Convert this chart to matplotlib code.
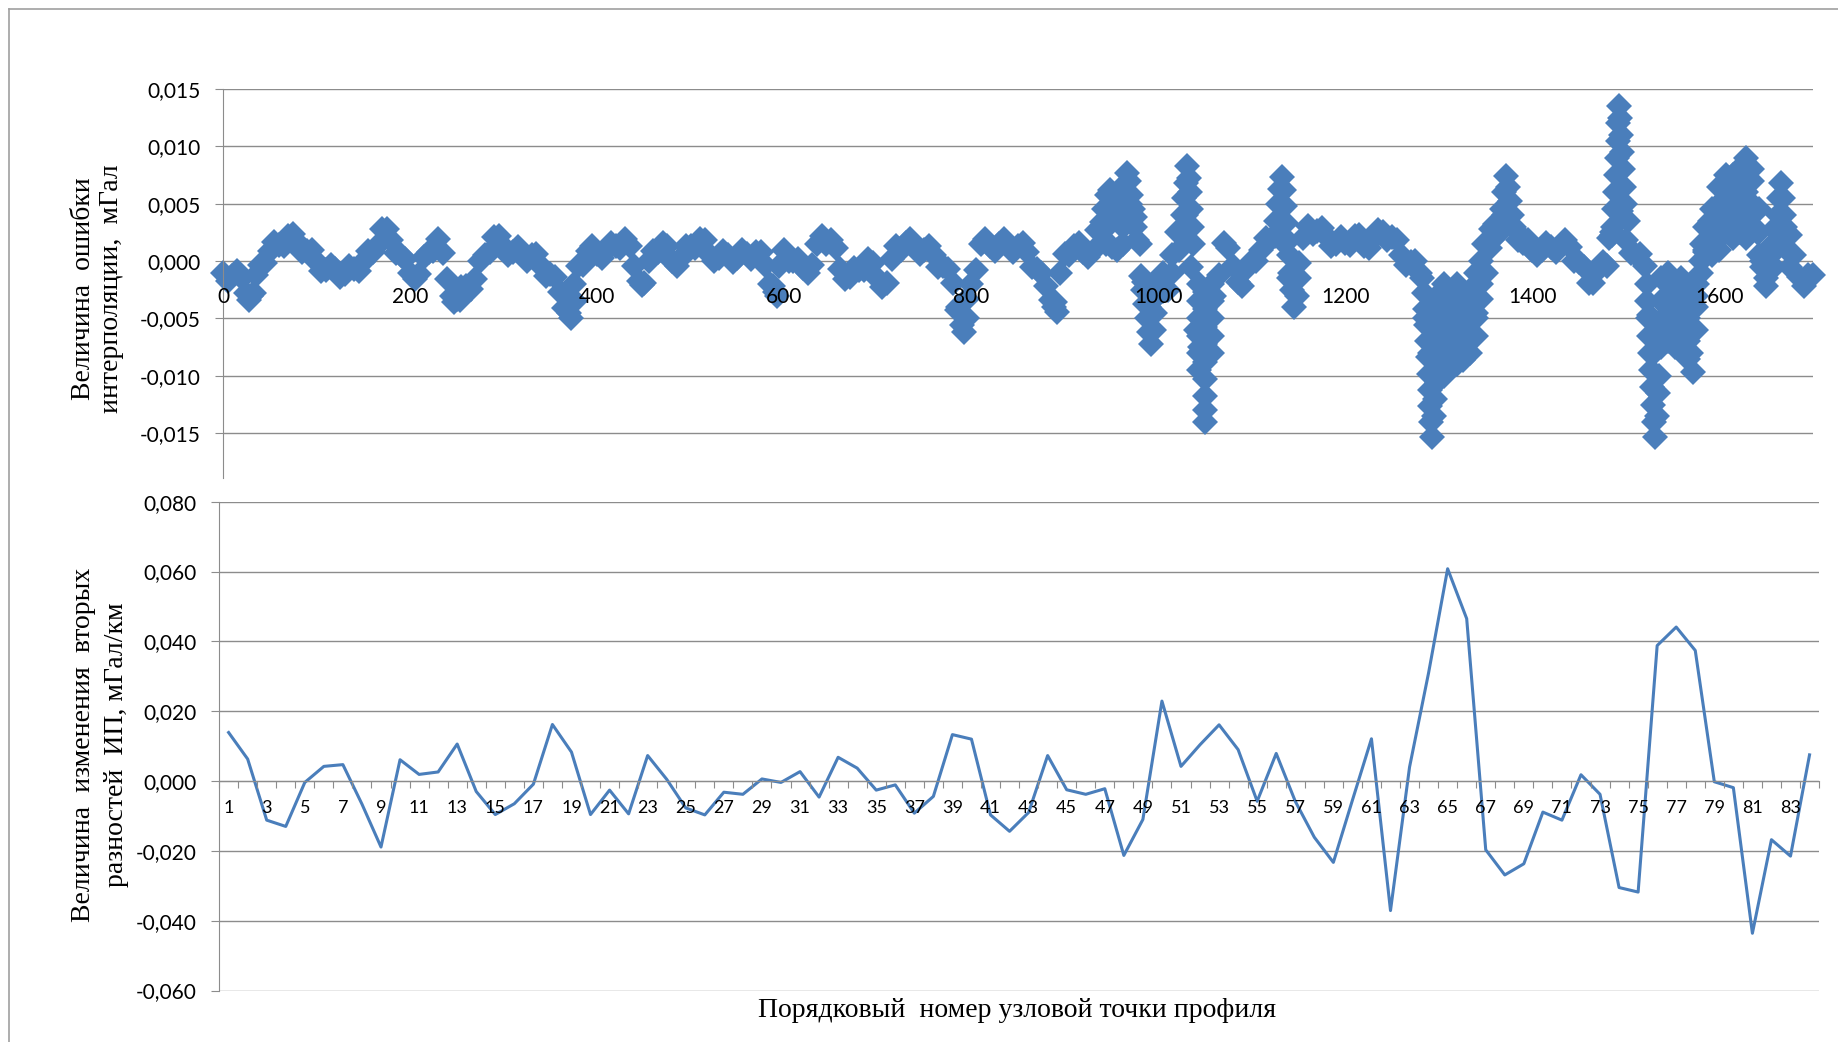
import numpy as np
import matplotlib.pyplot as plt
from matplotlib.ticker import FixedLocator, FuncFormatter, NullFormatter
from matplotlib.lines import Line2D

# --- top panel: interpolation error along the profile ---
# band centre every 10 nodes
track_x = np.arange(0, 1701, 10)
track_y = [
    -0.0010, -0.0013, -0.0015, -0.0030, -0.0003, 0.0009, 0.0014, 0.0022, 0.0016, 0.0009,
    0.0000, -0.0008, -0.0007, -0.0011, -0.0007, -0.0001, 0.0008, 0.0028, 0.0018, 0.0005,
    -0.0010, -0.0011, 0.0008, 0.0019, -0.0016, -0.0033, -0.0022, -0.0016, 0.0005, 0.0021,
    0.0012, 0.0008, 0.0006, 0.0005, -0.0004, -0.0011, -0.0027, -0.0045, -0.0004, 0.0009,
    0.0006, 0.0009, 0.0013, 0.0019, -0.0004, -0.0019, 0.0009, 0.0016, 0.0000, 0.0003,
    0.0013, 0.0019, 0.0006, 0.0003, 0.0005, 0.0003, 0.0006, 0.0008, -0.0003, -0.0027,
    0.0010, 0.0000, -0.0006, -0.0003, 0.0022, 0.0018, -0.0007, -0.0014, -0.0008, 0.0002,
    -0.0016, -0.0019, 0.0013, 0.0016, 0.0012, 0.0010, 0.0005, -0.0004, -0.0019, -0.0056,
    -0.0020, 0.0015, 0.0013, 0.0015, 0.0012, 0.0013, 0.0008, -0.0007, -0.0022, -0.0036,
    0.0006, 0.0013, 0.0008, 0.0009, 0.0034, 0.0035, 0.0040, 0.0050, 0.0015, -0.0040,
    -0.0016, -0.0025, 0.0025, 0.0040, -0.0060, -0.0080, -0.0030, 0.0016, -0.0004, -0.0022,
    0.0000, 0.0010, 0.0019, 0.0035, -0.0015, -0.0002, 0.0031, 0.0026, 0.0021, 0.0015,
    0.0016, 0.0022, 0.0013, 0.0019, 0.0025, 0.0021, 0.0005, -0.0001, -0.0010, -0.0080,
    -0.0060, -0.0055, -0.0060, -0.0050, -0.0045, -0.0010, 0.0021, 0.0040, 0.0030, 0.0016,
    0.0010, 0.0010, 0.0012, 0.0013, 0.0012, -0.0001, -0.0019, -0.0008, -0.0004, 0.0060,
    0.0018, 0.0006, -0.0004, -0.0080, -0.0050, -0.0050, -0.0040, -0.0060, -0.0010, 0.0035,
    0.0030, 0.0050, 0.0060, 0.0050, 0.0025, -0.0015, 0.0030, 0.0030, 0.0005, -0.0022,
    -0.0012,
]

# in-between nodes (5, 15, 25, ...), alternately on the lower / upper side of the band
mid_x = np.arange(5, 1700, 10)
mid_y = [
    -0.0017, -0.0009, -0.0028, -0.0012, -0.0002, 0.0017, 0.0013, 0.0024, 0.0008, 0.0010,
    -0.0009, -0.0003, -0.0014, -0.0004, -0.0009, 0.0009, 0.0013, 0.0028, 0.0007, 0.0002,
    -0.0016, 0.0004, 0.0009, 0.0007, -0.0030, -0.0023, -0.0024, 0.0000, 0.0008, 0.0022,
    0.0005, 0.0012, 0.0000, 0.0006, -0.0013, -0.0014, -0.0041, -0.0020, -0.0003, 0.0013,
    0.0003, 0.0016, 0.0011, 0.0013, -0.0017, 0.0000, 0.0008, 0.0013, -0.0004, 0.0013,
    0.0011, 0.0018, 0.0000, 0.0009, -0.0001, 0.0010, 0.0002, 0.0008, -0.0020, -0.0004,
    0.0000, 0.0002, -0.0010, 0.0015, 0.0015, 0.0011, -0.0016, -0.0006, -0.0008, -0.0002,
    -0.0023, 0.0002, 0.0010, 0.0019, 0.0006, 0.0013, -0.0005, -0.0007, -0.0043, -0.0033,
    -0.0008, 0.0019, 0.0009, 0.0019, 0.0008, 0.0016, -0.0005, -0.0010, -0.0034, -0.0010,
    0.0005, 0.0016, 0.0004, 0.0027, 0.0030, 0.0043, 0.0040, 0.0038, -0.0018, -0.0023,
    -0.0026, 0.0005, 0.0028, -0.0005, -0.0075, -0.0050, -0.0012, 0.0011, -0.0018, -0.0006,
    0.0000, 0.0020, 0.0022, 0.0015, -0.0014, 0.0020, 0.0024, 0.0029, 0.0013, 0.0021,
    0.0014, 0.0023, 0.0011, 0.0027, 0.0018, 0.0018, -0.0003, 0.0000, -0.0050, -0.0065,
    -0.0063, -0.0053, -0.0060, -0.0043, -0.0033, 0.0011, 0.0025, 0.0040, 0.0018, 0.0018,
    0.0005, 0.0016, 0.0008, 0.0018, 0.0000, -0.0005, -0.0019, -0.0001, 0.0023, 0.0044,
    0.0007, 0.0006, -0.0047, -0.0060, -0.0055, -0.0040, -0.0055, -0.0030, 0.0008, 0.0038,
    0.0035, 0.0060, 0.0050, 0.0043, 0.0000, 0.0013, 0.0025, 0.0023, -0.0014, -0.0012,
]

# extra points in the dips, spikes and scattered stretches
extra_pts = [
    (28, -0.0034), (33, -0.0028), (247, -0.0036), (253, -0.0034),
    (368, -0.0040), (372, -0.0050), (376, -0.0035), (448, -0.0021),
    (588, -0.0022), (592, -0.0030), (786, -0.0040), (792, -0.0062), (796, -0.0050),
    (888, -0.0040), (892, -0.0044),
    # 940 - 1060
    (942, 0.0045), (945, 0.0058), (948, 0.0062), (952, 0.0050), (955, 0.0040),
    (958, 0.0060), (962, 0.0030), (965, 0.0068), (967, 0.0077), (969, 0.0070),
    (971, 0.0058), (973, 0.0045), (975, 0.0030), (977, 0.0018),
    (944, 0.0015), (950, 0.0012), (956, 0.0010), (962, 0.0015),
    (982, -0.0013), (984, -0.0025), (986, -0.0037), (988, -0.0050), (990, -0.0062),
    (992, -0.0072), (995, -0.0060), (997, -0.0045), (999, -0.0030),
    (1005, -0.0010), (1015, -0.0010),
    (1022, 0.0010), (1024, 0.0025), (1026, 0.0040), (1028, 0.0055), (1030, 0.0068),
    (1031, 0.0083), (1033, 0.0072), (1034, 0.0060), (1035, 0.0045), (1036, 0.0030),
    (1037, 0.0015),
    (1044, -0.0020), (1044, -0.0035), (1044, -0.0050), (1044, -0.0065), (1044, -0.0080),
    (1044, -0.0095),
    (1050, -0.0027), (1050, -0.0042), (1050, -0.0057), (1050, -0.0072), (1050, -0.0088),
    (1050, -0.0103), (1050, -0.0118), (1050, -0.0130), (1050, -0.0140),
    (1057, -0.0020), (1057, -0.0035), (1057, -0.0050), (1057, -0.0065), (1057, -0.0080),
    # 1120 - 1150
    (1126, 0.0035), (1128, 0.0050), (1130, 0.0063), (1132, 0.0073), (1134, 0.0062),
    (1135, 0.0048), (1137, 0.0033), (1138, 0.0018), (1140, 0.0005), (1141, -0.0010),
    (1143, -0.0025), (1145, -0.0040), (1148, -0.0030), (1150, -0.0015),
    # 1280 - 1350
    (1282, -0.0015), (1284, -0.0028), (1285, -0.0042), (1286, -0.0056), (1287, -0.0070),
    (1288, -0.0084), (1289, -0.0098), (1290, -0.0112), (1291, -0.0126), (1292, -0.0140),
    (1293, -0.0153), (1295, -0.0135), (1296, -0.0120),
    (1298, -0.0030), (1298, -0.0050), (1298, -0.0070), (1298, -0.0090), (1298, -0.0105),
    (1305, -0.0020), (1305, -0.0040), (1305, -0.0060), (1305, -0.0080), (1305, -0.0100),
    (1312, -0.0030), (1312, -0.0050), (1312, -0.0070), (1312, -0.0092),
    (1319, -0.0020), (1319, -0.0040), (1319, -0.0060), (1319, -0.0080), (1319, -0.0090),
    (1326, -0.0030), (1326, -0.0050), (1326, -0.0070), (1326, -0.0086),
    (1333, -0.0025), (1333, -0.0045), (1333, -0.0065), (1333, -0.0080),
    (1340, -0.0010), (1340, -0.0030), (1340, -0.0050), (1340, -0.0065),
    (1345, 0.0000), (1345, -0.0020), (1348, 0.0015),
    # 1355 - 1380
    (1356, 0.0028), (1360, 0.0032), (1366, 0.0030), (1368, 0.0045), (1370, 0.0060),
    (1372, 0.0074), (1374, 0.0065), (1376, 0.0052), (1378, 0.0040), (1380, 0.0028),
    # 1480 - 1502
    (1482, 0.0020), (1485, 0.0025), (1486, 0.0030), (1487, 0.0045), (1488, 0.0060),
    (1489, 0.0075), (1490, 0.0090), (1491, 0.0105), (1492, 0.0120), (1493, 0.0135),
    (1494, 0.0125), (1495, 0.0110), (1496, 0.0095), (1497, 0.0080), (1498, 0.0065),
    (1499, 0.0050), (1502, 0.0035),
    # 1520 - 1582
    (1522, -0.0020), (1523, -0.0035), (1524, -0.0050), (1525, -0.0065), (1526, -0.0080),
    (1527, -0.0095), (1528, -0.0110), (1529, -0.0125), (1530, -0.0140), (1531, -0.0153),
    (1533, -0.0135), (1534, -0.0115), (1535, -0.0100),
    (1538, -0.0015), (1538, -0.0035), (1538, -0.0055), (1538, -0.0075),
    (1545, -0.0010), (1545, -0.0030), (1545, -0.0050), (1545, -0.0070),
    (1552, -0.0020), (1552, -0.0040), (1552, -0.0060), (1552, -0.0075),
    (1559, -0.0015), (1559, -0.0035), (1559, -0.0055), (1559, -0.0070),
    (1566, -0.0030), (1566, -0.0050), (1566, -0.0070), (1566, -0.0085),
    (1570, -0.0060), (1570, -0.0080), (1572, -0.0097),
    (1575, -0.0060), (1575, -0.0040), (1576, -0.0020), (1580, 0.0000), (1581, 0.0015),
    # 1585 - 1676
    (1585, 0.0010), (1585, 0.0030),
    (1592, 0.0005), (1592, 0.0025), (1592, 0.0045),
    (1600, 0.0010), (1600, 0.0030), (1600, 0.0050), (1600, 0.0065),
    (1607, 0.0025), (1607, 0.0045), (1607, 0.0065), (1607, 0.0075),
    (1614, 0.0020), (1614, 0.0040), (1614, 0.0060), (1614, 0.0075),
    (1621, 0.0025), (1621, 0.0045), (1621, 0.0065), (1621, 0.0080),
    (1628, 0.0020), (1628, 0.0040), (1628, 0.0060), (1628, 0.0075), (1628, 0.0090),
    (1635, 0.0030), (1635, 0.0050), (1635, 0.0070), (1635, 0.0080),
    (1642, 0.0005), (1642, 0.0025), (1642, 0.0045),
    (1646, -0.0005), (1650, -0.0022), (1658, -0.0005), (1660, 0.0010), (1661, 0.0025),
    (1663, 0.0040), (1664, 0.0055), (1666, 0.0068), (1668, 0.0055), (1669, 0.0040),
    (1671, 0.0025), (1672, 0.0010), (1675, -0.0005),
]

# --- bottom panel: change of second differences per node ---
node_num = np.arange(1, 85)
second_diff = [
    0.0139, 0.0063, -0.0112, -0.0130, -0.0004, 0.0042, 0.0047, -0.0066, -0.0189, 0.0061,
    0.0019, 0.0026, 0.0106, -0.0030, -0.0096, -0.0065, -0.0009, 0.0162, 0.0083, -0.0096,
    -0.0026, -0.0094, 0.0073, 0.0005, -0.0077, -0.0097, -0.0032, -0.0038, 0.0006, -0.0004,
    0.0027, -0.0046, 0.0068, 0.0037, -0.0026, -0.0011, -0.0092, -0.0044, 0.0133, 0.0120,
    -0.0097, -0.0144, -0.0090, 0.0073, -0.0025, -0.0038, -0.0022, -0.0213, -0.0110, 0.0229,
    0.0042, 0.0104, 0.0161, 0.0090, -0.0058, 0.0079, -0.0058, -0.0161, -0.0233, -0.0055,
    0.0121, -0.0371, 0.0040, 0.0310, 0.0608, 0.0465, -0.0197, -0.0269, -0.0237, -0.0089,
    -0.0112, 0.0018, -0.0038, -0.0305, -0.0318, 0.0388, 0.0441, 0.0374, -0.0002, -0.0019,
    -0.0436, -0.0168, -0.0215, 0.0075,
]

blue = '#4A7EBB'
grid_c = '#8C8C8C'
tick_font = 'Lato'
serif = 'Liberation Serif'


def comma_fmt(v, pos):
    s = f"{v:.3f}".replace('.', ',')
    return '0,000' if s == '-0,000' else s


fig = plt.figure(figsize=(18.38, 10.42), dpi=100)

# chart border (only left and top edges are inside the picture)
fig.add_artist(Line2D([0.005, 0.005], [0.0, 0.9915], transform=fig.transFigure, color='#A0A0A0', lw=1.2))
fig.add_artist(Line2D([0.005, 1.0], [0.9915, 0.9915], transform=fig.transFigure, color='#A0A0A0', lw=1.2))

# top panel
ax1 = fig.add_axes([0.1213, 0.5413, 0.8651, 0.3733])
ex_x = [p[0] for p in extra_pts]
ex_y = [p[1] for p in extra_pts]
for xs, ys in [(track_x, track_y), (mid_x, mid_y), (ex_x, ex_y)]:
    ax1.plot(xs, ys, linestyle='none', marker='D', ms=13, color=blue, mew=0, clip_on=False, zorder=2)
ax1.set_xlim(0, 1700)
ax1.set_ylim(-0.0189, 0.015)
ax1.yaxis.set_major_locator(FixedLocator([-0.015, -0.010, -0.005, 0.0, 0.005, 0.010, 0.015]))
ax1.yaxis.set_major_formatter(FuncFormatter(comma_fmt))
ax1.xaxis.set_major_locator(FixedLocator(list(range(0, 1601, 200))))
ax1.spines['bottom'].set_position(('data', 0))
ax1.spines['bottom'].set_visible(False)
ax1.spines['top'].set_visible(False)
ax1.spines['right'].set_visible(False)
ax1.spines['left'].set_color(grid_c)
ax1.grid(axis='y', color=grid_c, lw=1.0)
ax1.set_axisbelow(True)
ax1.xaxis.set_zorder(3)  # x labels sit on top of the markers
ax1.tick_params(axis='x', length=0, pad=18.5, labelsize=15, colors='black')
ax1.tick_params(axis='y', length=6, color=grid_c, pad=10, labelsize=15)
for lab in ax1.get_xticklabels() + ax1.get_yticklabels():
    lab.set_fontfamily(tick_font)

# bottom panel
ax2 = fig.add_axes([0.1192, 0.0494, 0.8705, 0.4691])
ax2.plot(node_num, second_diff, color=blue, lw=2.2)
ax2.set_xlim(0.5, 84.5)
ax2.set_ylim(-0.06, 0.08)
ax2.yaxis.set_major_locator(FixedLocator([-0.06, -0.04, -0.02, 0.0, 0.02, 0.04, 0.06, 0.08]))
ax2.yaxis.set_major_formatter(FuncFormatter(comma_fmt))
ax2.xaxis.set_major_locator(FixedLocator(np.arange(0.5, 85, 1.0)))
ax2.xaxis.set_major_formatter(NullFormatter())
ax2.xaxis.set_minor_locator(FixedLocator(node_num[::2]))
ax2.xaxis.set_minor_formatter(FuncFormatter(lambda v, p: f"{int(round(v))}"))
ax2.spines['bottom'].set_position(('data', 0))
ax2.spines['bottom'].set_color(grid_c)
ax2.spines['top'].set_visible(False)
ax2.spines['right'].set_visible(False)
ax2.spines['left'].set_color(grid_c)
ax2.grid(axis='y', color=grid_c, lw=1.0)
ax2.set_axisbelow(True)
ax2.xaxis.set_zorder(3)
ax2.tick_params(axis='x', which='major', length=5, color=grid_c, direction='out')
ax2.tick_params(axis='x', which='minor', length=0, pad=14, labelsize=13)
ax2.tick_params(axis='y', length=6, color=grid_c, pad=10, labelsize=15)
for lab in ax2.get_xticklabels(minor=True) + ax2.get_yticklabels():
    lab.set_fontfamily(tick_font)

# axis titles
fig.text(0.0530, 0.7226, "Величина  ошибки\nинтерполяции,  мГал", fontfamily=serif, fontsize=20,
         rotation=90, ha='center', va='center', multialignment='center', linespacing=1.12)
fig.text(0.0543, 0.2850, "Величина  изменения  вторых\nразностей  ИП, мГал/км", fontfamily=serif,
         fontsize=20, rotation=90, ha='center', va='center', multialignment='center', linespacing=1.42)
fig.text(0.5535, 0.0307, "Порядковый  номер узловой точки профиля", fontfamily=serif,
         fontsize=20, ha='center', va='center')

fig.savefig('out.png', dpi=100)
